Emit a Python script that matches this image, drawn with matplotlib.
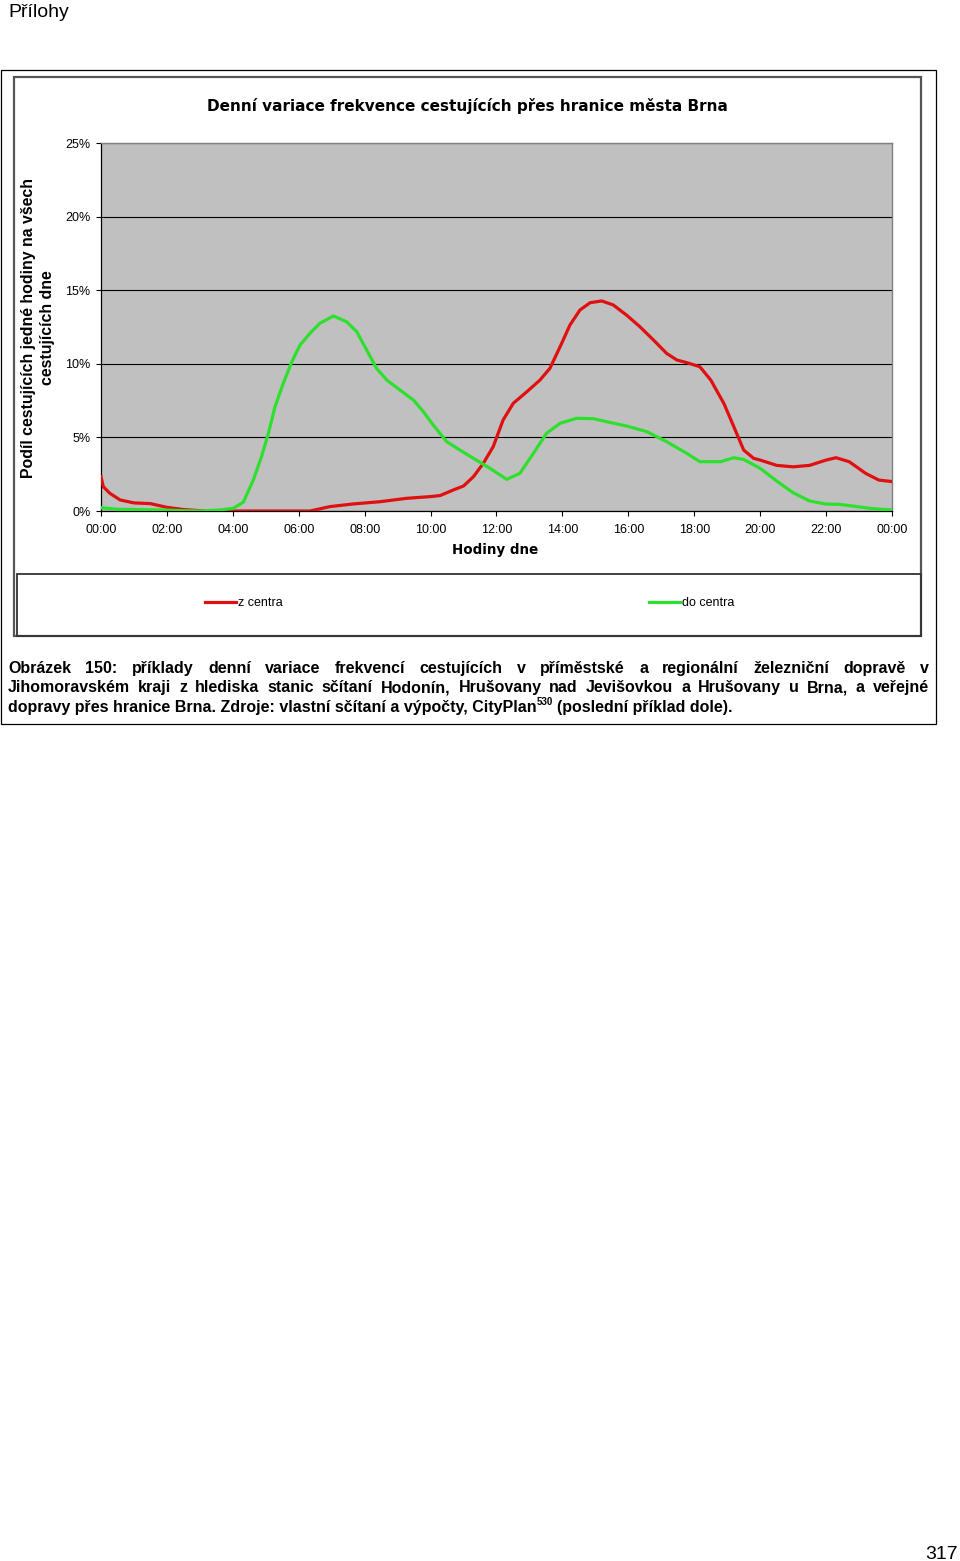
import numpy as np
import matplotlib
matplotlib.use("Agg")
from matplotlib import pyplot as plt
from matplotlib import patches

# hodiny dne (h) a podil cestujicich (%)
red_hours = [0.0, 0.07, 0.27, 0.58, 1.0, 1.5, 2.0, 2.5, 3.0, 4.0, 5.0, 6.0, 6.34, 6.95, 7.66, 8.46,
             9.27, 10.0, 10.29, 10.69, 11.0, 11.3, 11.6, 11.9, 12.2, 12.51, 12.92, 13.32, 13.62,
             13.93, 14.23, 14.53, 14.84, 15.19, 15.54, 15.95, 16.35, 16.76, 17.16, 17.47, 17.77,
             18.17, 18.5, 18.9, 19.2, 19.5, 19.8, 20.0, 20.5, 21.0, 21.5, 22.0, 22.3, 22.7, 23.2,
             23.6, 24.0]
red_share = [2.33, 1.65, 1.2, 0.75, 0.55, 0.5, 0.25, 0.1, 0.02, 0.0, 0.0, 0.0, 0.0, 0.3, 0.48, 0.63,
             0.86, 0.98, 1.05, 1.43, 1.7, 2.33, 3.24, 4.37, 6.18, 7.32, 8.1, 8.9, 9.69,
             11.16, 12.64, 13.65, 14.15, 14.27, 14.0, 13.3, 12.52, 11.62, 10.71, 10.26, 10.08,
             9.8, 8.9, 7.3, 5.73, 4.14, 3.58, 3.46, 3.1, 3.0, 3.1, 3.46, 3.62, 3.35, 2.56,
             2.1, 2.0]

green_hours = [0.0, 0.5, 1.0, 2.0, 2.5, 3.0, 3.61, 4.01, 4.32, 4.62, 4.87, 5.08, 5.28, 5.53, 5.79,
               6.04, 6.34, 6.64, 7.05, 7.45, 7.76, 8.06, 8.36, 8.67, 9.07, 9.48, 9.78, 10.08,
               10.49, 10.89, 11.3, 11.8, 12.31, 12.71, 13.12, 13.52, 13.93, 14.43, 14.94, 15.34,
               15.95, 16.56, 17.16, 17.77, 18.17, 18.5, 18.8, 19.2, 19.5, 20.0, 20.5, 21.0, 21.5,
               22.0, 22.4, 22.8, 23.4, 24.0]
green_share = [0.22, 0.12, 0.1, 0.06, 0.02, 0.0, 0.07, 0.18, 0.6, 2.1, 3.69, 5.28, 7.09, 8.67, 10.14,
               11.28, 12.07, 12.75, 13.25, 12.86, 12.18, 10.94, 9.69, 8.9, 8.22, 7.54, 6.75, 5.84,
               4.71, 4.14, 3.58, 2.9, 2.15, 2.56, 3.92, 5.28, 5.96, 6.3, 6.27, 6.07,
               5.77, 5.39, 4.71, 3.92, 3.35, 3.35, 3.35, 3.62, 3.5, 2.9, 2.04, 1.24, 0.68,
               0.47, 0.45, 0.34, 0.16, 0.07]

x_ticks = [0, 2, 4, 6, 8, 10, 12, 14, 16, 18, 20, 22, 24]
x_labels = ["00:00", "02:00", "04:00", "06:00", "08:00", "10:00", "12:00",
            "14:00", "16:00", "18:00", "20:00", "22:00", "00:00"]
y_ticks = [0, 5, 10, 15, 20, 25]
y_labels = ["0%", "5%", "10%", "15%", "20%", "25%"]

W, H = 960, 1561
fig = plt.figure(figsize=(W / 100, H / 100), dpi=100)
fig.patch.set_facecolor("white")
renderer = fig.canvas.get_renderer()


def fx(x):
    return x / W


def fy(y):
    return 1 - y / H


def box(x0, y0, x1, y1, color, lw):
    r = patches.Rectangle((fx(x0), fy(y1)), (x1 - x0) / W, (y1 - y0) / H,
                          transform=fig.transFigure, fill=False, ec=color, lw=lw)
    fig.add_artist(r)


def fit(t, width):
    w = t.get_window_extent(renderer).width
    t.set_fontsize(t.get_fontsize() * width / w)


# ramecky
box(1, 70, 936, 724, "black", 0.9)
box(14, 77, 921, 636, "#555555", 1.6)
box(17, 574, 921, 636, "#333333", 1.3)

ax = fig.add_axes([fx(101), fy(511), (892 - 101) / W, (511 - 143) / H])
ax.set_facecolor("#c0c0c0")
ax.plot(red_hours, red_share, color="#e01010", lw=2.3, label="z centra", zorder=3,
        solid_joinstyle="round")
ax.plot(green_hours, green_share, color="#2ee02e", lw=2.3, label="do centra", zorder=3,
        solid_joinstyle="round")
ax.set_xlim(0, 24)
ax.set_ylim(0, 25)
ax.set_xticks(x_ticks)
ax.set_xticklabels(x_labels, fontfamily="Liberation Sans", fontsize=9)
ax.set_yticks(y_ticks)
ax.set_yticklabels(y_labels, fontfamily="Liberation Sans", fontsize=9)
ax.tick_params(axis="both", direction="out", length=3.5, width=0.8, color="black")
ax.tick_params(axis="x", pad=6)
ax.tick_params(axis="y", pad=4)
ax.grid(axis="y", color="black", lw=0.8)
ax.set_axisbelow(True)
for s in ["left", "bottom"]:
    ax.spines[s].set_color("black")
    ax.spines[s].set_linewidth(0.9)
for s in ["top", "right"]:
    ax.spines[s].set_color("#808080")
    ax.spines[s].set_linewidth(1.0)

# texty grafu
t = fig.text(fx(467.5), fy(111), "Denní variace frekvence cestujících přes hranice města Brna",
             ha="center", va="baseline", fontfamily="DejaVu Sans", fontweight="bold", fontsize=12)
fit(t, 519)
t = fig.text(fx(495), fy(554), "Hodiny dne", ha="center", va="baseline",
             fontfamily="DejaVu Sans", fontweight="bold", fontsize=11)
fit(t, 86)
fig.text(fx(38), fy(328), "Podíl cestujících jedné hodiny na všech\ncestujících dne",
         rotation=90, ha="center", va="center", multialignment="center",
         fontfamily="Liberation Sans", fontweight="bold", fontsize=11.4, linespacing=1.3)

fig.legend(loc="center", bbox_to_anchor=(fx(469.5), fy(603)), ncol=2, frameon=False,
           prop={"family": "Liberation Sans", "size": 9}, handlelength=2.5,
           handletextpad=0.15, columnspacing=29.3)

# hlavicka a cislo strany
fig.text(fx(8), fy(17), "Přílohy", ha="left", va="baseline",
         fontfamily="Liberation Sans", fontsize=14)
fig.text(fx(958), fy(1559), "317", ha="right", va="baseline",
         fontfamily="Liberation Sans", fontsize=14)

# popisek obrazku (do bloku)
cap_kw = dict(va="baseline", fontfamily="Liberation Sans", fontweight="bold", fontsize=11.5)
line1 = "Obrázek 150: příklady denní variace frekvencí cestujících v příměstské a regionální železniční dopravě v"
line2 = "Jihomoravském kraji z hlediska stanic sčítaní Hodonín, Hrušovany nad Jevišovkou a Hrušovany u Brna, a veřejné"


def justify(line, y, x0, x1):
    words = line.split()
    texts = [fig.text(0, fy(y), w, **cap_kw) for w in words]
    widths = [tt.get_window_extent(renderer).width for tt in texts]
    gap = (x1 - x0 - sum(widths)) / (len(words) - 1)
    x = x0
    for tt, w in zip(texts, widths):
        tt.set_x(fx(x))
        x += w + gap


justify(line1, 673, 8, 929)
justify(line2, 692.5, 8, 929)

t1 = fig.text(fx(8), fy(712), "dopravy přes hranice Brna. Zdroje: vlastní sčítaní a výpočty, CityPlan", **cap_kw)
x = 8 + t1.get_window_extent(renderer).width
t2 = fig.text(fx(x), fy(705), "530", va="baseline", fontfamily="Liberation Sans",
              fontweight="bold", fontsize=7)
x += t2.get_window_extent(renderer).width + 4
fig.text(fx(x), fy(712), "(poslední příklad dole).", **cap_kw)

fig.savefig("out.png", dpi=100, facecolor="white")
